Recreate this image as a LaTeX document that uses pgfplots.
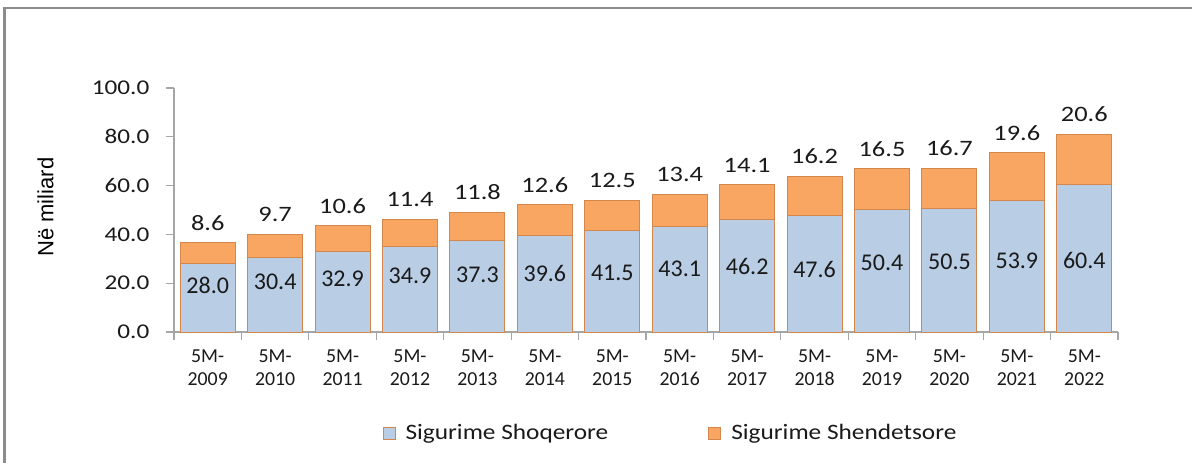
\documentclass[border=0pt]{standalone}
\usepackage{pgfplots}
\pgfplotsset{compat=1.18}
\usepackage{pgfplotstable}
\usepackage{fontspec}
\setmainfont{Carlito}
\newfontfamily\fY{Carlito}[FakeStretch=1.2]
\newfontfamily\fX{Carlito}
\newfontfamily\fB{Carlito}
\newfontfamily\fL{Carlito}[FakeStretch=1.15]
\newfontfamily\fA{Liberation Sans}
\definecolor{blu}{HTML}{B9CDE5}
\definecolor{ora}{HTML}{F8A662}
\definecolor{edg}{HTML}{D4874C}
\definecolor{axg}{HTML}{A6A6A6}
\definecolor{frm}{HTML}{8C8C8C}
\definecolor{txt}{HTML}{1A1A1A}
\pgfplotstableread{
x s o ly
0 28.0 8.6 19.3
1 30.4 9.7 20.5
2 32.9 10.6 21.7
3 34.9 11.4 23.0
4 37.3 11.8 23.4
5 39.6 12.6 23.8
6 41.5 12.5 24.3
7 43.1 13.4 25.8
8 46.2 14.1 26.8
9 47.6 16.2 25.8
10 50.4 16.5 28.3
11 50.5 16.7 28.7
12 53.9 19.6 29.1
13 60.4 20.6 29.5
}\data
\pgfplotsset{
  common/.style={
    at={(87pt,65.5pt)}, anchor=south west,
    scale only axis, width=472pt, height=122pt,
    xmin=-0.5, xmax=13.5, ymin=0, ymax=100,
  }
}
\begin{document}
\begin{tikzpicture}
\useasboundingbox (0,0) rectangle (596pt,231.5pt);
\draw[frm, line width=1.15pt] (2.25pt,0) -- (2.25pt,227.5pt) -- (596pt,227.5pt);
\begin{axis}[
  common,
  ybar stacked, bar width=27.5pt,
  axis x line*=bottom, axis y line*=left,
  axis line style={axg, line width=0.6pt, -},
  tick style={axg, line width=0.6pt},
  tick align=outside,
  major tick length=3.8pt,
  ytick={0,20,40,60,80,100},
  /pgf/number format/.cd, fixed, fixed zerofill, precision=1, assume math mode=true, /pgfplots/.cd,
  yticklabel style={font=\fY\fontsize{10.5}{12}\selectfont, text=txt, xshift=-5pt},
  xtick={-0.5,0.5,1.5,2.5,3.5,4.5,5.5,6.5,7.5,8.5,9.5,10.5,11.5,12.5,13.5},
  xticklabels={},
  extra x ticks={0,1,2,3,4,5,6,7,8,9,10,11,12,13},
  extra x tick labels={{5M-\\2009},{5M-\\2010},{5M-\\2011},{5M-\\2012},{5M-\\2013},{5M-\\2014},{5M-\\2015},{5M-\\2016},{5M-\\2017},{5M-\\2018},{5M-\\2019},{5M-\\2020},{5M-\\2021},{5M-\\2022}},
  extra x tick style={major tick length=0pt, tick style={draw=none},
    xticklabel style={align=center, font=\fX\fontsize{9.9}{11.5}\selectfont, text=txt, yshift=-5.5pt}},
  ylabel={Në miliard},
  ylabel style={at={(axis description cs:-0.136,0.512)}, anchor=center, font=\fA\fontsize{11}{13}\selectfont, text=black},
  legend style={draw=none, fill=none, at={(axis description cs:0.527,-0.414)}, anchor=center,
    legend columns=2, font=\fL\fontsize{11}{13}\selectfont, text=txt,
    /tikz/every even column/.append style={column sep=48pt}},
  legend image code/.code={\draw[#1, line width=0.5pt] (0pt,-3pt) rectangle (6pt,3pt); \path (9pt,0pt);},
]
\addplot[fill=blu, draw=edg, line width=0.5pt] table[x=x, y=s] {\data};
\addlegendentry{Sigurime Shoqerore}
\addplot[fill=ora, draw=edg, line width=0.5pt] table[x=x, y=o] {\data};
\addlegendentry{Sigurime Shendetsore}
\end{axis}
\begin{axis}[common, hide axis]
\addplot[draw=none, mark=none, nodes near coords, point meta=explicit symbolic,
  nodes near coords align={anchor=center},
  every node near coord/.append style={anchor=center, inner sep=0pt, font=\fB\fontsize{12}{13}\selectfont, text=txt}]
  table[x=x, y=ly, meta=s] {\data};
\addplot[draw=none, mark=none, nodes near coords, point meta=explicit symbolic,
  nodes near coords align={anchor=south},
  every node near coord/.append style={anchor=south, inner sep=0pt, yshift=6pt, font=\fY\fontsize{11}{12}\selectfont, text=txt}]
  table[x=x, y expr=\thisrow{s}+\thisrow{o}, meta=o] {\data};
\end{axis}
\end{tikzpicture}
\end{document}
